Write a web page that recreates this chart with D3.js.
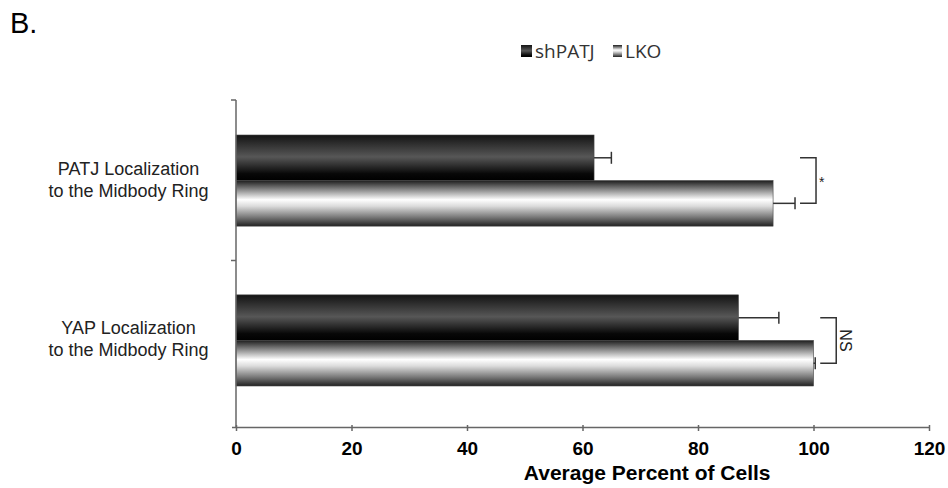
<!DOCTYPE html>
<html>
<head>
<meta charset="utf-8">
<script src="https://cdn.jsdelivr.net/npm/d3@7"></script>
<style>
  html, body { margin: 0; padding: 0; background: #fff; }
  svg { display: block; }
</style>
</head>
<body>
<svg id="chart" width="948" height="488"></svg>
<script>
// ---- data ----
const categories = ["PATJ Localization\nto the Midbody Ring", "YAP Localization\nto the Midbody Ring"];
const seriesNames = ["shPATJ", "LKO"];
const shPATJValues = [62, 87];
const lkoValues = [93, 100];
const shPATJErrors = [3, 7];
const lkoErrors = [3.8, 0.3];
const significance = ["*", "NS"];
const xTicks = [0, 20, 40, 60, 80, 100, 120];
const xTitle = "Average Percent of Cells";
const panelLabel = "B.";

const values = [shPATJValues, lkoValues];
const errors = [shPATJErrors, lkoErrors];

const svg = d3.select("#chart");
const defs = svg.append("defs");

function grad(id, stops) {
  const g = defs.append("linearGradient").attr("id", id)
    .attr("x1", 0).attr("y1", 0).attr("x2", 0).attr("y2", 1);
  stops.forEach(([o, c]) => g.append("stop").attr("offset", o).attr("stop-color", c));
}
grad("g-shPATJ", [[0, "#141414"], [0.12, "#242424"], [0.48, "#575757"], [0.85, "#080808"], [1, "#000"]]);
grad("g-LKO", [[0, "#1e1e1e"], [0.15, "#6e6e6e"], [0.42, "#ffffff"], [0.56, "#dcdcdc"], [0.8, "#7a7a7a"], [1, "#222"]]);
const fills = ["url(#g-shPATJ)", "url(#g-LKO)"];

// ---- scales ----
const x = d3.scaleLinear().domain([0, 120]).range([236, 929]);
const y = d3.scaleBand().domain(categories).range([100, 421]).paddingInner(0.43).paddingOuter(0.219);
const ySub = d3.scaleBand().domain(seriesNames).range([0, y.bandwidth()]);

const axisColor = "#666";
const arial = "Liberation Sans, Arial, sans-serif";

// ---- bars ----
categories.forEach((cat, ci) => {
  seriesNames.forEach((s, si) => {
    const y0 = y(cat) + ySub(s);
    svg.append("rect")
      .attr("x", x(0)).attr("y", y0)
      .attr("width", x(values[si][ci]) - x(0))
      .attr("height", ySub.bandwidth())
      .attr("fill", fills[si])
      .attr("stroke", "#444").attr("stroke-width", 0.6);
    // error bar
    const yc = y0 + ySub.bandwidth() / 2;
    const xe = x(values[si][ci] + errors[si][ci]);
    svg.append("line").attr("x1", x(values[si][ci])).attr("x2", xe)
      .attr("y1", yc).attr("y2", yc).attr("stroke", "#333").attr("stroke-width", 1.5);
    svg.append("line").attr("x1", xe).attr("x2", xe)
      .attr("y1", yc - 6).attr("y2", yc + 6).attr("stroke", "#333").attr("stroke-width", 1.5);
  });
  // significance bracket
  const yA = y(cat) + ySub(seriesNames[0]) + ySub.bandwidth() / 2;
  const yB = y(cat) + ySub(seriesNames[1]) + ySub.bandwidth() / 2;
  const maxX = d3.max(seriesNames.map((s, si) => x(values[si][ci] + errors[si][ci])));
  const bx0 = maxX + 5, bx1 = maxX + 21;
  svg.append("path")
    .attr("d", `M${bx0},${yA}H${bx1}V${yB}H${bx0}`)
    .attr("fill", "none").attr("stroke", "#333").attr("stroke-width", 1.5);
  const ym = (yA + yB) / 2;
  if (significance[ci] === "*") {
    svg.append("text").attr("x", bx1 + 3).attr("y", ym + 6)
      .attr("font-family", arial).attr("font-size", 14)
      .attr("fill", "#222").text(significance[ci]);
  } else {
    svg.append("text").attr("transform", `translate(${bx1 + 4},${ym}) rotate(90)`)
      .attr("text-anchor", "middle")
      .attr("font-family", arial).attr("font-size", 16)
      .attr("fill", "#222").text(significance[ci]);
  }
});

// ---- x axis ----
const xAxis = svg.append("g").attr("transform", "translate(0,427)")
  .call(d3.axisBottom(x).tickValues(xTicks).tickSize(6).tickSizeOuter(0).tickPadding(9));
xAxis.select(".domain").attr("stroke", axisColor).attr("stroke-width", 1.5).attr("d", `M${x(0) - 4},0.5H${x(120)}`);
xAxis.selectAll(".tick line").attr("stroke", axisColor).attr("stroke-width", 1.5).attr("y1", -2).attr("y2", 4);
xAxis.selectAll(".tick text")
  .attr("font-family", arial)
  .attr("font-size", 19).attr("font-weight", "bold").attr("fill", "#000");

svg.append("text").attr("x", x(71.2)).attr("y", 480).attr("text-anchor", "middle")
  .attr("font-family", arial)
  .attr("font-size", 21).attr("font-weight", "bold").attr("fill", "#000").text(xTitle);

// ---- y axis ----
svg.append("line").attr("x1", x(0)).attr("x2", x(0)).attr("y1", 100).attr("y2", 427)
  .attr("stroke", axisColor).attr("stroke-width", 1.5);
const boundaries = [y.range()[0], y(categories[1]) - y.step() * y.paddingInner() / 2];
boundaries.forEach(b => {
  svg.append("line").attr("x1", x(0) - 5).attr("x2", x(0)).attr("y1", b).attr("y2", b)
    .attr("stroke", axisColor).attr("stroke-width", 1.5);
});
categories.forEach(cat => {
  const lines = cat.split("\n");
  const cy = y(cat) + y.bandwidth() / 2;
  const t = svg.append("text").attr("text-anchor", "middle")
    .attr("font-family", arial).attr("font-size", 18).attr("fill", "#222");
  lines.forEach((l, i) => {
    t.append("tspan").attr("x", 128.5).attr("y", cy - 6 + i * 22).text(l);
  });
});

// ---- legend ----
const legendItems = [{ name: "shPATJ", x: 521, w: 11 }, { name: "LKO", x: 613, w: 9 }];
legendItems.forEach((it, i) => {
  svg.append("rect").attr("x", it.x).attr("y", 45).attr("width", it.w).attr("height", 12)
    .attr("fill", fills[i]);
  svg.append("text").attr("x", it.x + it.w + 3).attr("y", 58)
    .attr("font-family", "Open Sans, sans-serif").attr("font-size", 19).attr("fill", "#333").text(it.name);
});

// ---- panel label ----
svg.append("text").attr("x", 10).attr("y", 33)
  .attr("font-family", arial).attr("font-size", 29).attr("fill", "#000").text(panelLabel);
</script>
</body>
</html>
